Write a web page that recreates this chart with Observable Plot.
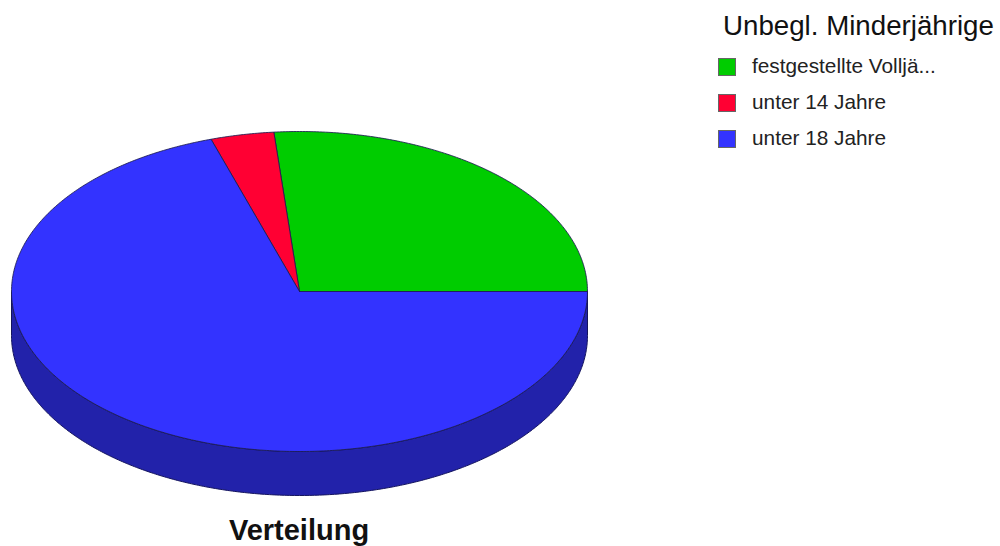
<!DOCTYPE html>
<html lang="de">
<head>
<meta charset="utf-8">
<script src="https://cdn.jsdelivr.net/npm/d3@7"></script>
<script src="https://cdn.jsdelivr.net/npm/@observablehq/plot@0.6"></script>
<style>
html,body{margin:0;padding:0;background:#fff;}
#wrap{position:relative;width:1000px;height:546px;overflow:hidden;font-family:"Liberation Sans",Arial,sans-serif;color:#000;}
#chart svg{display:block;position:absolute;left:0;top:0;}
.t{position:absolute;white-space:nowrap;}
#legendTitle{left:723px;top:11px;font-size:27.7px;line-height:30px;color:#111;}
#caption{left:0;width:598px;top:512px;text-align:center;font-weight:bold;font-size:29px;line-height:36px;color:#111;}
.sw{position:absolute;left:718px;width:18px;height:18px;box-sizing:border-box;border:1px solid #666;}
.lb{left:752px;font-size:20.8px;line-height:22px;color:#222;}
</style>
</head>
<body>
<div id="wrap">
<div id="chart"></div>
<div class="t" id="legendTitle"></div>
<div class="t" id="caption"></div>
</div>
<script>
const legendTitle = "Unbegl. Minderjährige";
const caption = "Verteilung";
const categories = ["festgestellte Volljä...", "unter 14 Jahre", "unter 18 Jahre"];
const shares = [26.42, 3.55, 70.03];
const colors = ["#00cc00", "#ff0033", "#3333ff"];
const wallColor = "#2222aa";
const wallDepth = 0.275;

const total = d3.sum(shares);
let acc = 0;
const slices = categories.map((name, i) => {
  const a0 = acc / total * 2 * Math.PI;
  acc += shares[i];
  const a1 = acc / total * 2 * Math.PI;
  const n = Math.ceil((a1 - a0) / 0.01);
  const pts = [{name, x: 0, y: 0}];
  for (let k = 0; k <= n; k++) {
    const a = a0 + (a1 - a0) * k / n;
    pts.push({name, x: Math.cos(a), y: Math.sin(a)});
  }
  pts.push({name, x: 0, y: 0});
  return pts;
}).flat();

// Visible side wall: lower half of the rim, extruded downwards.
const wall = [];
const N = 360;
for (let k = 0; k <= N; k++) {
  const a = Math.PI * k / N;
  wall.push({x: Math.cos(a), y: -Math.sin(a)});
}
for (let k = N; k >= 0; k--) {
  const a = Math.PI * k / N;
  wall.push({x: Math.cos(a), y: -Math.sin(a) - wallDepth});
}
wall.push(wall[0]);

const plot = Plot.plot({
  width: 1000,
  height: 546,
  margin: 0,
  axis: null,
  x: {type: "linear", domain: [-1, 1], range: [11, 587]},
  y: {type: "linear", domain: [1, -1], range: [131, 451]},
  color: {domain: categories, range: colors},
  marks: [
    Plot.line(wall, {x: "x", y: "y", fill: wallColor, stroke: "#14145e", strokeWidth: 1, curve: "linear"}),
    Plot.line(slices, {x: "x", y: "y", z: "name", fill: "name", stroke: "#1c1c50", strokeWidth: 1, strokeOpacity: 0.85, curve: "linear"})
  ]
});
document.getElementById("chart").append(plot);
document.getElementById("legendTitle").textContent = legendTitle;
document.getElementById("caption").textContent = caption;

const wrap = document.getElementById("wrap");
const legendTops = [58, 94, 130];
categories.forEach((c, i) => {
  const s = document.createElement("div");
  s.className = "sw";
  s.style.top = legendTops[i] + "px";
  s.style.background = colors[i];
  wrap.append(s);
  const l = document.createElement("div");
  l.className = "t lb";
  l.style.top = (legendTops[i] - 3) + "px";
  l.textContent = c;
  wrap.append(l);
});
</script>
</body>
</html>
